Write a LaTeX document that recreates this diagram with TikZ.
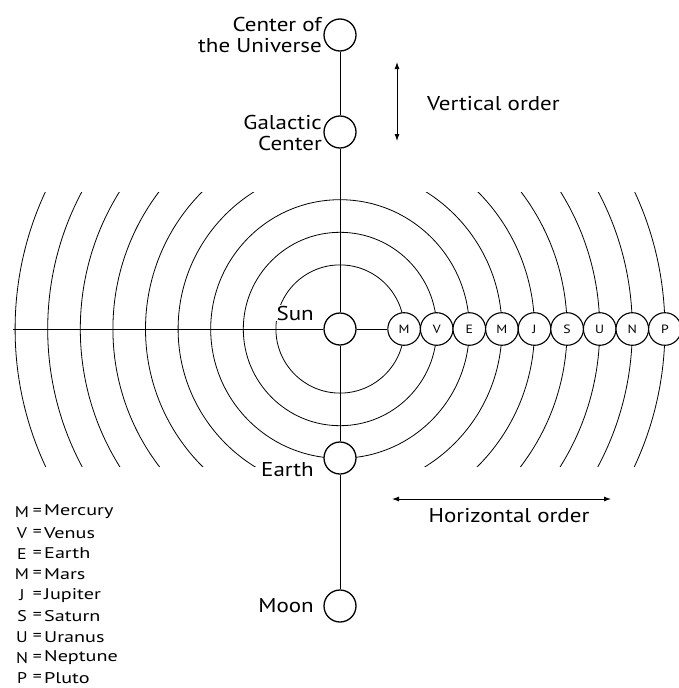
\documentclass[tikz,border=0pt]{standalone}
\usepackage{fontspec}
\setmainfont{PT Sans}
\newfontfamily\lblfont{PT Sans}[FakeStretch=1.15]
\newfontfamily\legfont{PT Sans}[FakeStretch=1.3]
\usetikzlibrary{arrows.meta}
\pgfdeclarelayer{bg}
\pgfsetlayers{bg,main}
\tikzset{
  body/.style={circle, draw, line width=1.3pt, fill=white, minimum size=32pt, inner sep=0pt},
  planet/.style={circle, draw, line width=1.1pt, fill=white, minimum size=32.6pt, inner sep=0pt, font=\lblfont\fontsize{12}{12}\selectfont},
  lbl/.style={font=\lblfont\fontsize{20}{21}\selectfont, align=right, inner sep=1pt},
  orbit/.style={line width=0.8pt},
  axis/.style={line width=1pt},
  legtxt/.style={font=\legfont\fontsize{15.5}{15.5}\selectfont, inner sep=0pt},
  legsym/.style={font=\lblfont\fontsize{15.5}{15.5}\selectfont, inner sep=0pt},
  dbl/.style={{Latex[length=7pt,width=5pt]}-{Latex[length=7pt,width=5pt]}, line width=0.9pt}
}
\begin{document}
\begin{tikzpicture}[x=1pt,y=-1pt]
\useasboundingbox (0,0) rectangle (679,688);
% bodies on the vertical axis
\node[body] (cu) at (340,35) {};
\node[body] (gc) at (340,132) {};
\node[body] (sun) at (340,329) {};
\node[body] (earth) at (340,458) {};
\node[body] (moon) at (340,606) {};
% labels
\node[lbl, anchor=east] (cuL) at (323,35) {Center of\\the Universe};
\node[lbl, anchor=east] (gcL) at (323,133) {Galactic\\Center};
\node[lbl, anchor=east, fill=white] (sunL) at (315,313) {Sun};
\node[lbl, anchor=east] (earthL) at (315,470) {Earth};
\node[lbl, anchor=east] (moonL) at (315,606) {Moon};
% planets
\foreach \l [count=\k] in {M,V,E,M,J,S,U,N,P}{
  \pgfmathsetmacro{\px}{340+31.5+32.6*\k}
  \node[planet] (p\k) at (\px,329) {\l};
}
% orbits
\begin{pgfonlayer}{bg}
\begin{scope}
  \clip (0,192) rectangle (679,466);
  \foreach \k in {1,...,9}{
    \draw[orbit] (sun.center) circle[radius={31.5+32.6*\k}];
  }
\end{scope}
\end{pgfonlayer}
% axes
\coordinate (left) at (13,329);
\draw[axis] (cu) -- (gc) -- (sun) -- (earth) -- (moon);
\draw[axis] (left) -- (sun);
\draw[axis] (sun) -- (p1);
% order arrows
\coordinate (vt) at (397,62);
\coordinate (vb) at (397,141);
\draw[dbl] (vt) -- (vb);
\node[lbl, anchor=west] (vlab) at (426,104) {Vertical order};
\coordinate (hl) at (392,499);
\coordinate (hr) at (611,499);
\draw[dbl] (hl) -- (hr);
\node[lbl, anchor=north] (hlab) at (509,507) {Horizontal order};
% legend
\foreach \a/\n [count=\i] in {M/Mercury,V/Venus,E/Earth,M/Mars,J/Jupiter,S/Saturn,U/Uranus,N/Neptune,P/Pluto}{
  \pgfmathsetmacro{\ly}{512+20.8*(\i-1)}
  \node[legsym] (la\i) at (22,\ly) {\a};
  \node[legsym] (le\i) at (37.5,\ly) {=};
  \node[legtxt, anchor=west] (ln\i) at (44,\ly) {\n};
}
\end{tikzpicture}
\end{document}
